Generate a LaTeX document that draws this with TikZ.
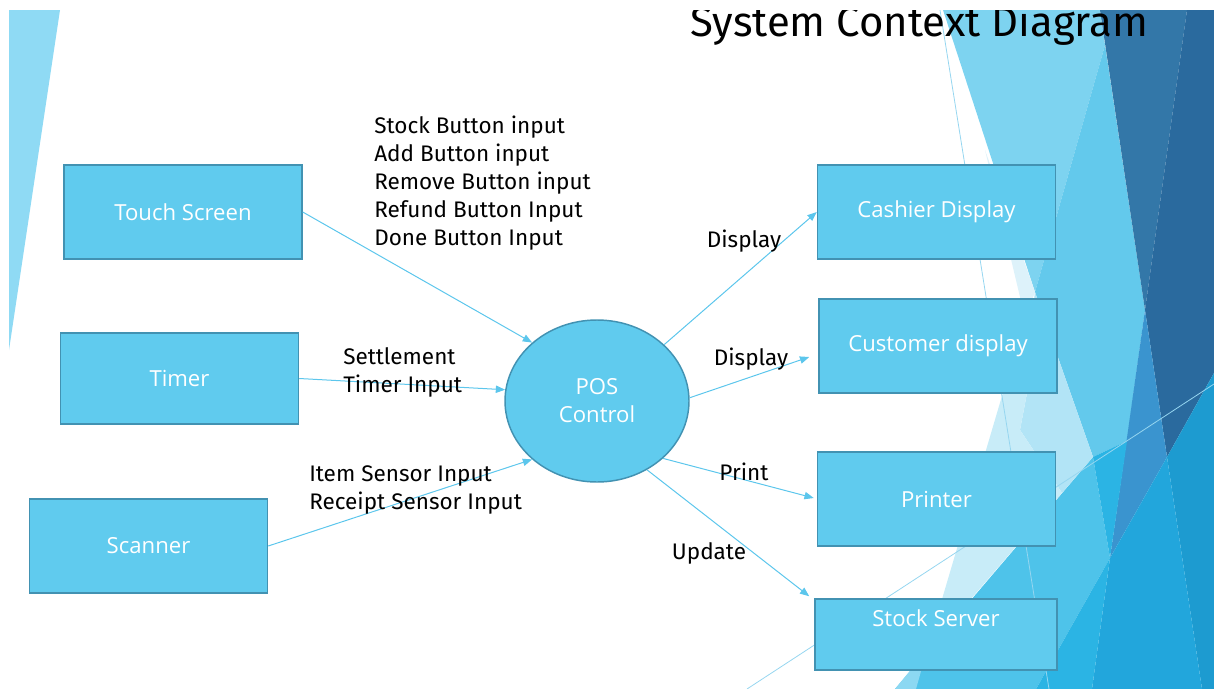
\documentclass[tikz,border=0pt]{standalone}
\usepackage{fontspec}
\setmainfont{Fira Sans}
\newfontfamily\boxfont{Open Sans}
\usetikzlibrary{arrows.meta,shapes.geometric}

\definecolor{boxfill}{RGB}{96,203,238}
\definecolor{boxline}{RGB}{66,146,178}
\definecolor{flowc}{RGB}{92,198,236}
\definecolor{leftfacet}{RGB}{143,218,244}
\definecolor{fLight}{RGB}{125,211,240}
\definecolor{fPale}{RGB}{221,242,250}
\definecolor{fPaleB}{RGB}{200,236,248}
\definecolor{fLightPale}{RGB}{178,228,246}
\definecolor{fMedium}{RGB}{99,201,236}
\definecolor{fMediumB}{RGB}{78,195,234}
\definecolor{fBright}{RGB}{43,180,228}
\definecolor{fBlue}{RGB}{34,166,220}
\definecolor{fBlueEdge}{RGB}{29,155,208}
\definecolor{fMidDark}{RGB}{58,148,207}
\definecolor{fDarkA}{RGB}{51,119,168}
\definecolor{fDarkB}{RGB}{42,106,158}
\definecolor{fThin}{RGB}{150,214,240}
\definecolor{fBottom}{RGB}{140,216,242}

\begin{document}
\begin{tikzpicture}[x=0.75pt,y=-0.75pt,
  entity/.style={draw=boxline,line width=1.1pt,fill=boxfill,text=white,
    font=\boxfont\fontsize{16.6}{21}\selectfont,
    minimum width=178.5pt,minimum height=70.5pt,inner sep=0pt},
  flow/.style={draw=flowc,line width=0.75pt,-{Triangle[length=7pt,width=5.5pt]}},
  lbl/.style={font=\fontsize{16.9}{21}\selectfont,align=left,inner sep=0pt,text=black},
  thinline/.style={draw=fThin,line width=0.6pt}]
\useasboundingbox (0,0) rectangle (1221,689);

% left facet
\fill[leftfacet] (9,10) -- (60,10) -- (9,350) -- cycle;

% right facets
\fill[fLight] (943,10) -- (1100,10) -- (1105,45) -- (1035,292) -- cycle;
\fill[fPale] (985,150) -- (1035,292) -- (1025,318) -- cycle;
\fill[fMedium] (1105,45) -- (1145,310) -- (1127,441) -- (1093,457) -- (1035,292) -- cycle;
\fill[fDarkA] (1100,10) -- (1187,10) -- (1145,310) -- cycle;
\fill[fDarkB] (1187,10) -- (1214,10) -- (1214,373) -- (1167,457) -- (1145,310) -- cycle;
\fill[fMidDark] (1145,310) -- (1167,457) -- (1110,558) -- cycle;
\fill[fBlueEdge] (1167,457) -- (1214,373) -- (1214,689) -- (1202,689) -- cycle;
\fill[fBlue] (1110,558) -- (1167,457) -- (1202,689) -- (1092,689) -- cycle;
\fill[fMediumB] (1093,457) -- (1110,558) -- (1036,689) -- (895,689) -- cycle;
\fill[fBright] (1093,457) -- (1127,441) -- (1110,558) -- cycle;
\fill[fBright] (1110,558) -- (1092,689) -- (1036,689) -- cycle;
\fill[fLightPale] (1035,292) -- (1093,457) -- (1062,493) -- (1020,430) -- (1027,393) -- (1030,330) -- cycle;
\fill[fPaleB] (1025,318) -- (1030,330) -- (1027,393) -- (1020,430) -- (1062,493) -- (927,650) -- cycle;
\fill[fBottom] (927,650) -- (916,689) -- (895,689) -- cycle;
\draw[thinline] (940,10) -- (1049,689);
\draw[thinline] (747,689) -- (1214,384);

% title
\node[anchor=base west,inner sep=0pt,font=\fontsize{31.4}{36}\selectfont] (title) at (690,36) {System Context Diagram};

% external entities
\node[entity] (touch) at (183,212) {Touch Screen};
\node[entity,minimum height=68pt] (timer) at (179.5,378.5) {Timer};
\node[entity] (scanner) at (148.5,546) {Scanner};
\node[entity] (cashier) at (936.5,212) {Cashier Display};
\node[entity] (customer) at (938,346) {Customer display};
\node[entity] (printer) at (936.5,499) {Printer};
\node[entity,minimum width=181.5pt,minimum height=53.25pt,text depth=24pt] (stock) at (936,634.5) {Stock Server};

% central process
\node[ellipse,draw=boxline,line width=1.1pt,fill=boxfill,text=white,align=center,
  font=\boxfont\fontsize{16.6}{21}\selectfont,
  minimum width=138pt,minimum height=121.5pt,inner sep=0pt] (pos) at (597,401) {POS\\Control};

% data flows
\draw[flow] (touch.east) -- (pos.138.8);
\draw[flow] (timer.east) -- (pos.173);
\draw[flow] (scanner.east) -- (pos.222.7);
\draw[flow] (pos.40.3) -- (cashier.west);
\draw[flow] (pos.2) -- ([shift={(-9,11)}]customer.west);
\draw[flow] (pos.319) -- ([shift={(-3,-1)}]printer.west);
\draw[flow] (pos.306.7) -- ([shift={(-5,-2)}]stock.north west);

% flow labels
\node[lbl,anchor=west] (lbuttons) at (374,183) {Stock Button input\\Add Button input\\Remove Button input\\Refund Button Input\\Done Button Input};
\node[lbl,anchor=west] (ltimer) at (343,372.5) {Settlement\\Timer Input};
\node[lbl,anchor=west] (lsensor) at (309,490) {Item Sensor Input\\Receipt Sensor Input};
\node[lbl] (ldisp1) at (744,241) {Display};
\node[lbl] (ldisp2) at (751,359) {Display};
\node[lbl] (lprint) at (744,472) {Print};
\node[lbl] (lupdate) at (709,553) {Update};

% page margins
\fill[white] (0,0) rectangle (1221,10);
\fill[white] (0,0) rectangle (9,689);
\fill[white] (1214,0) rectangle (1221,689);
\end{tikzpicture}
\end{document}
